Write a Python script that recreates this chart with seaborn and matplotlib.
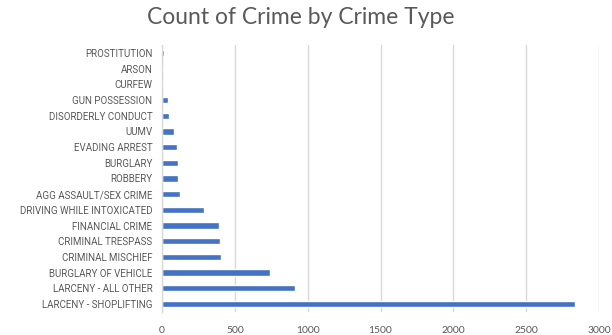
import matplotlib
matplotlib.use("Agg")
import matplotlib.pyplot as plt
import seaborn as sns
import pandas as pd

categories = ["PROSTITUTION", "ARSON", "CURFEW", "GUN POSSESSION", "DISORDERLY CONDUCT",
              "UUMV", "EVADING ARREST", "BURGLARY", "ROBBERY", "AGG ASSAULT/SEX CRIME",
              "DRIVING WHILE INTOXICATED", "FINANCIAL CRIME", "CRIMINAL TRESPASS",
              "CRIMINAL MISCHIEF", "BURGLARY OF VEHICLE", "LARCENY - ALL OTHER",
              "LARCENY - SHOPLIFTING"]
counts = [12, 10, 10, 39, 46, 82, 105, 112, 110, 126, 286, 389, 398, 405, 739, 916, 2835]
xticks = [0, 500, 1000, 1500, 2000, 2500, 3000]

df = pd.DataFrame({"type": categories, "count": counts})

sns.set_theme(style="white")
plt.rcParams['font.family'] = ['Lato', 'DejaVu Sans']

fig = plt.figure(figsize=(6.12, 3.35), dpi=100)
ax = fig.add_axes([0.2647, 0.0693, 0.7141, 0.796])
sns.barplot(data=df, x="count", y="type", order=categories, color="#4472C4",
            width=0.4, ax=ax, saturation=1)

ax.set_xlim(0, 3000)
ax.set_xticks(xticks)
ax.set_xticklabels([str(t) for t in xticks])
ax.grid(axis="x", color="#d9d9d9", linewidth=1)
ax.set_axisbelow(True)
for s in ["top", "right", "bottom"]:
    ax.spines[s].set_visible(False)
ax.spines["left"].set_color("#d9d9d9")
ax.spines["left"].set_linewidth(1)
ax.set_xlabel("")
ax.set_ylabel("")
ax.tick_params(axis="y", colors="#595959", length=0, pad=7)
ax.tick_params(axis="x", labelsize=7.5, colors="#595959", length=0, pad=10)
for lbl in ax.get_yticklabels():
    lbl.set_family(['Roboto', 'Lato'])
    lbl.set_fontsize(7.0)
fig.suptitle("Count of Crime by Crime Type", x=0.492, y=0.978, fontsize=16.5,
             color="#595959", va="top")

fig.savefig("out.png", dpi=100)
